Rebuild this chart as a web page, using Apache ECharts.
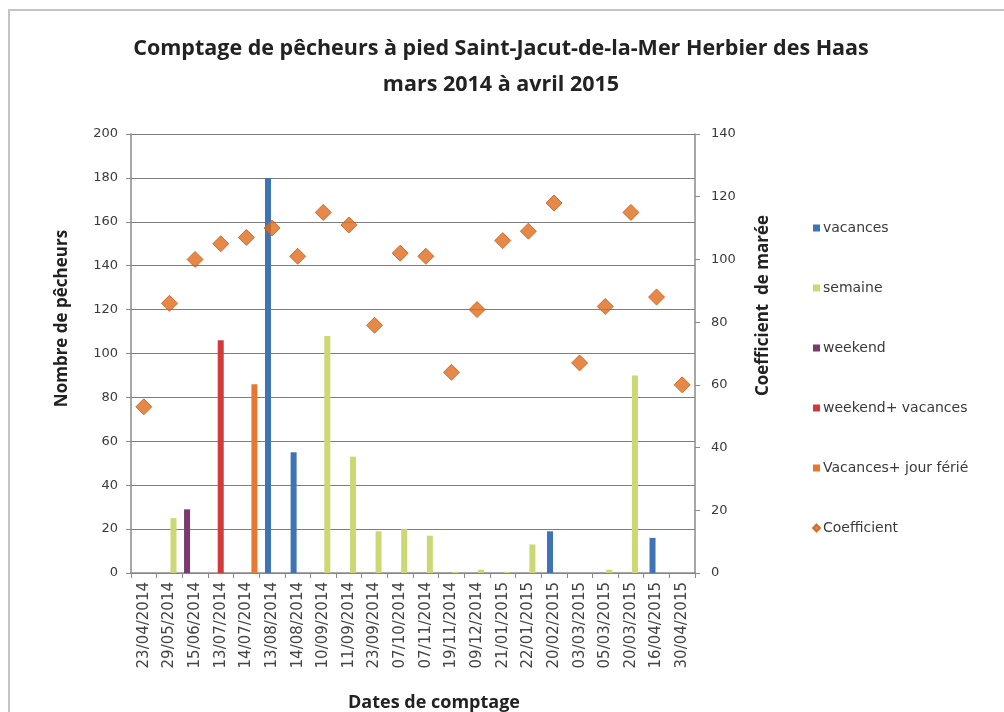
<!DOCTYPE html>
<html>
<head>
<meta charset="utf-8">
<script src="https://cdn.jsdelivr.net/npm/echarts@6/dist/echarts.min.js"></script>
<style>
html,body{margin:0;padding:0;background:#fff;}
#frame{position:absolute;left:8px;top:9px;width:1010px;height:720px;border:2px solid #c4c4c4;box-sizing:border-box;}
#chart{position:absolute;left:0;top:0;width:1004px;height:712px;}
</style>
</head>
<body>
<div id="frame"></div>
<div id="chart"></div>
<script>
const categories = ['23/04/2014','29/05/2014','15/06/2014','13/07/2014','14/07/2014','13/08/2014','14/08/2014','10/09/2014','11/09/2014','23/09/2014','07/10/2014','07/11/2014','19/11/2014','09/12/2014','21/01/2015','22/01/2015','20/02/2015','03/03/2015','05/03/2015','20/03/2015','16/04/2015','30/04/2015'];
const vacances = [null,null,null,null,null,180,55,null,null,null,null,null,null,null,null,null,19,null,null,null,16,null];
const semaine = [null,25,null,null,null,null,null,108,53,19,20,17,0.5,1.5,0.5,13,null,null,1.5,90,null,null];
const weekend = [null,null,29,null,null,null,null,null,null,null,null,null,null,null,null,null,null,null,null,null,null,null];
const weekendVacances = [null,null,null,106,null,null,null,null,null,null,null,null,null,null,null,null,null,null,null,null,null,null];
const vacancesFerie = [null,null,null,null,86,null,null,null,null,null,null,null,null,null,null,null,null,null,null,null,null,null];
const coefficient = [53,86,100,105,107,110,101,115,111,79,102,101,64,84,106,109,118,67,85,115,88,60];
const leftTicks = {min:0,max:200,interval:20};
const rightTicks = {min:0,max:140,interval:20};

const chart = echarts.init(document.getElementById('chart'), null, {renderer:'canvas'});
const txt = '#3a3a3a';
const labelFont = 'DejaVu Sans';
const barW = 6, gap = '-33%';
function bar(name, data, color){
  return {name, type:'bar', data, barWidth:barW, barGap:gap, itemStyle:{color}, yAxisIndex:0, animation:false};
}
chart.setOption({
  animation:false,
  title:{
    text:'Comptage de pêcheurs à pied Saint-Jacut-de-la-Mer Herbier des Haas\nmars 2014 à avril 2015',
    left:496, top:26, textAlign:'center',
    textStyle:{fontFamily:'Open Sans', fontSize:21.5, fontWeight:'bold', color:'#222', lineHeight:36}
  },
  grid:{left:131, right:309, top:134, bottom:139, containLabel:false, outerBoundsMode:'none'},
  legend:{
    orient:'vertical', left:807, top:216, itemGap:46, itemWidth:7, itemHeight:7,
    textStyle:{fontFamily:labelFont, fontSize:14, color:txt, padding:[0,0,0,-2]},
    data:[
      {name:'vacances', icon:'rect'},
      {name:'semaine', icon:'rect'},
      {name:'weekend', icon:'rect'},
      {name:'weekend+ vacances', icon:'rect'},
      {name:'Vacances+ jour férié', icon:'rect'},
      {name:'Coefficient', icon:'diamond'}
    ]
  },
  xAxis:{
    type:'category', data:categories, boundaryGap:true,
    name:'Dates de comptage', nameLocation:'middle', nameGap:121,
    nameTextStyle:{fontFamily:'Open Sans', fontSize:18, fontWeight:'bold', color:'#222', padding:[0,0,0,42]},
    axisLine:{lineStyle:{color:'#8a8a8a', width:1.5}},
    axisTick:{show:true, alignWithLabel:false, length:5, lineStyle:{color:'#8a8a8a'}},
    axisLabel:{rotate:90, interval:0, fontFamily:labelFont, fontSize:15, color:'#444', margin:9}
  },
  yAxis:[
    {
      type:'value', position:'left', min:leftTicks.min, max:leftTicks.max, interval:leftTicks.interval,
      name:'Nombre de pêcheurs', nameLocation:'middle', nameRotate:90, nameGap:60,
      nameTextStyle:{fontFamily:'Open Sans', fontSize:17, fontWeight:'bold', color:'#222', padding:[0,0,0,70]},
      axisLine:{show:true, lineStyle:{color:'#8a8a8a', width:1.5}},
      axisTick:{show:true, length:5, lineStyle:{color:'#8a8a8a'}},
      axisLabel:{fontFamily:labelFont, fontSize:13, color:txt, margin:13},
      splitLine:{show:true, lineStyle:{color:'#7d7d7d', width:1.2}}
    },
    {
      type:'value', position:'right', min:rightTicks.min, max:rightTicks.max, interval:rightTicks.interval,
      name:'Coefficient  de marée', nameLocation:'middle', nameRotate:90, nameGap:60,
      nameTextStyle:{fontFamily:'Open Sans', fontSize:17, fontWeight:'bold', color:'#222', padding:[0,0,0,96]},
      axisLine:{show:true, lineStyle:{color:'#8a8a8a', width:1.5}},
      axisTick:{show:true, length:5, lineStyle:{color:'#8a8a8a'}},
      axisLabel:{fontFamily:labelFont, fontSize:13, color:txt, margin:16},
      splitLine:{show:false}
    }
  ],
  series:[
    bar('weekend', weekend, '#7a3a6c'),
    bar('vacances', vacances, '#3e73b6'),
    bar('weekend+ vacances', weekendVacances, '#d23a3a'),
    bar('semaine', semaine, '#ccd874'),
    bar('Vacances+ jour férié', vacancesFerie, '#e6782f'),
    {
      name:'Coefficient', type:'scatter', yAxisIndex:1, data:coefficient,
      symbol:'diamond', symbolSize:16,
      itemStyle:{color:'#e06a1a', borderColor:'#c85a14', borderWidth:1},
      z:5
    }
  ]
});
</script>
</body>
</html>
